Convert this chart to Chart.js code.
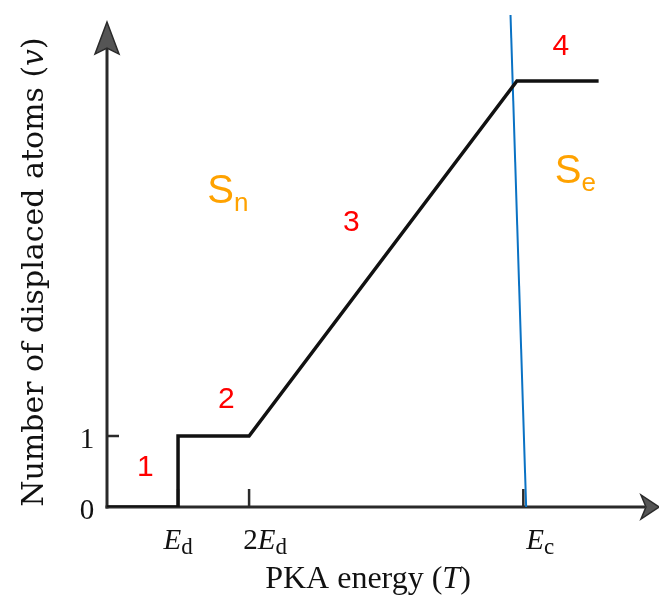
<!DOCTYPE html>
<html>
<head>
<meta charset="utf-8">
<script src="https://cdn.jsdelivr.net/npm/chart.js@4"></script>
<style>
  html, body { margin: 0; padding: 0; background: #fff; }
  #wrap { width: 659px; height: 601px; }
</style>
</head>
<body>
<div id="wrap"><canvas id="chart" width="659" height="601"></canvas></div>
<script>
// Displacement curve (Kinchin-Pease model), x in units of Ed
const curveX = [0, 1, 1, 2, 5.77, 6.92];
const curveY = [0, 0, 1, 1, 6, 6];

// Blue boundary line between Sn and Se regimes
const boundaryX = [5.68, 5.9];
const boundaryY = [6.93, 0];

// Axis ticks
const xTicks = [1, 2, 5.86];
const xTickLabels = [["E", "d"], ["2E", "d"], ["E", "c"]];
const yTicks = [0, 1];
const yTickLabels = ["0", "1"];

// Region numbers and stopping-power labels
const regionLabels = ["1", "2", "3", "4"];
const regionX = [0.54, 1.68, 3.44, 6.39];
const regionY = [0.55, 1.51, 4.01, 6.48];
const stoppingLabels = [["S", "n"], ["S", "e"]];
const stoppingX = [1.66, 6.55];
const stoppingY = [4.44, 4.72];

const toPoints = (xs, ys) => xs.map((x, i) => ({ x: x, y: ys[i] }));

const SERIF = "'Liberation Serif', 'DejaVu Serif', serif";
const WIDE_SERIF = "'DejaVu Serif', 'Liberation Serif', serif";
const SANS = "'Liberation Sans', Arial, sans-serif";

// draws a list of [text, font, dy] pieces left to right
const drawPieces = (ctx, pieces, x, y, align) => {
  let total = 0;
  pieces.forEach((p) => { ctx.font = p[1]; total += ctx.measureText(p[0]).width; });
  let cx = align === "center" ? x - total / 2 : x;
  pieces.forEach((p) => {
    ctx.font = p[1];
    ctx.fillText(p[0], cx, y + (p[2] || 0));
    cx += ctx.measureText(p[0]).width;
  });
};

const axesPlugin = {
  id: "axesPlugin",
  beforeDatasetsDraw(chart) {
    const ctx = chart.ctx;
    const xs = chart.scales.x;
    const ys = chart.scales.y;
    const x0 = xs.getPixelForValue(0);
    const y0 = ys.getPixelForValue(0);
    const yTop = ys.getPixelForValue(6.83);
    const xEnd = xs.getPixelForValue(7.77);

    ctx.save();
    ctx.strokeStyle = "#2a2a2a";
    ctx.lineWidth = 3;
    ctx.lineCap = "butt";
    // y axis
    ctx.beginPath();
    ctx.moveTo(x0, y0 + 1.5);
    ctx.lineTo(x0, yTop + 20);
    ctx.stroke();
    // x axis
    ctx.beginPath();
    ctx.moveTo(x0 - 1.5, y0);
    ctx.lineTo(xEnd - 14, y0);
    ctx.stroke();

    // arrow heads
    ctx.fillStyle = "#555";
    ctx.lineWidth = 1.5;
    ctx.beginPath();
    ctx.moveTo(x0, yTop);
    ctx.lineTo(x0 - 12, yTop + 32);
    ctx.lineTo(x0, yTop + 26);
    ctx.lineTo(x0 + 12, yTop + 32);
    ctx.closePath();
    ctx.fill();
    ctx.stroke();
    ctx.beginPath();
    ctx.moveTo(xEnd, y0);
    ctx.lineTo(xEnd - 18, y0 - 12);
    ctx.lineTo(xEnd - 13, y0);
    ctx.lineTo(xEnd - 18, y0 + 12);
    ctx.closePath();
    ctx.fill();
    ctx.stroke();

    // tick marks
    ctx.strokeStyle = "#2a2a2a";
    ctx.lineWidth = 2.5;
    yTicks.forEach((v) => {
      if (v === 0) return;
      const py = ys.getPixelForValue(v);
      ctx.beginPath();
      ctx.moveTo(x0, py);
      ctx.lineTo(x0 + 12, py);
      ctx.stroke();
    });
    xTicks.forEach((v) => {
      const px = xs.getPixelForValue(v);
      ctx.beginPath();
      ctx.moveTo(px, y0);
      ctx.lineTo(px, y0 - 18);
      ctx.stroke();
    });
    ctx.restore();
  },
  afterDatasetsDraw(chart) {
    const ctx = chart.ctx;
    const xs = chart.scales.x;
    const ys = chart.scales.y;
    const x0 = xs.getPixelForValue(0);
    const y0 = ys.getPixelForValue(0);

    ctx.save();
    ctx.fillStyle = "#111";
    ctx.textBaseline = "middle";

    // y tick labels
    ctx.textAlign = "center";
    ctx.font = "29px " + SERIF;
    yTicks.forEach((v, i) => {
      ctx.fillText(yTickLabels[i], x0 - 20, ys.getPixelForValue(v) + 4);
    });

    // x tick labels (italic E with upright subscript)
    ctx.textAlign = "left";
    const shifts = [0, 16, 17];
    xTicks.forEach((v, i) => {
      const lab = xTickLabels[i];
      const px = xs.getPixelForValue(v) + shifts[i];
      const main = lab[0].startsWith("2")
        ? [["2", "29px " + SERIF, 0], ["E", "italic 29px " + SERIF, 0]]
        : [["E", "italic 29px " + SERIF, 0]];
      drawPieces(ctx, main.concat([[lab[1], "23px " + SERIF, 7]]), px, y0 + 34, "center");
    });

    // axis titles
    drawPieces(ctx, [
      ["PKA energy (", "32px " + SERIF, 0],
      ["T", "italic 32px " + SERIF, 0],
      [")", "32px " + SERIF, 0],
    ], 368, 580, "center");

    ctx.save();
    ctx.translate(35, 272);
    ctx.rotate(-Math.PI / 2);
    drawPieces(ctx, [
      ["Number of displaced atoms (", "30px " + WIDE_SERIF, 0],
      ["v", "italic 30px " + WIDE_SERIF, 0],
      [")", "30px " + WIDE_SERIF, 0],
    ], 0, 0, "center");
    ctx.restore();

    // red region numbers
    ctx.fillStyle = "#ff0000";
    ctx.font = "30px " + SANS;
    ctx.textAlign = "center";
    regionLabels.forEach((t, i) => {
      ctx.fillText(t, xs.getPixelForValue(regionX[i]), ys.getPixelForValue(regionY[i]));
    });

    // orange stopping power labels
    ctx.fillStyle = "#ffa200";
    ctx.textAlign = "left";
    stoppingLabels.forEach((lab, i) => {
      drawPieces(ctx, [
        [lab[0], "40px " + SANS, 0],
        [lab[1], "26px " + SANS, 12],
      ], xs.getPixelForValue(stoppingX[i]) + 3, ys.getPixelForValue(stoppingY[i]), "center");
    });
    ctx.restore();
  },
};

new Chart(document.getElementById("chart"), {
  type: "line",
  data: {
    datasets: [
      {
        data: toPoints(curveX, curveY),
        borderColor: "#111111",
        borderWidth: 3.5,
        pointRadius: 0,
        tension: 0,
        borderJoinStyle: "miter",
      },
      {
        data: toPoints(boundaryX, boundaryY),
        borderColor: "#0a72c4",
        borderWidth: 2,
        pointRadius: 0,
        tension: 0,
      },
    ],
  },
  plugins: [axesPlugin],
  options: {
    responsive: false,
    animation: false,
    layout: { padding: { left: 107, right: 0, top: 10, bottom: 94 } },
    plugins: { legend: { display: false }, tooltip: { enabled: false } },
    scales: {
      x: { type: "linear", min: 0, max: 7.77, display: false },
      y: { type: "linear", min: 0, max: 7.0, display: false },
    },
  },
});
</script>
</body>
</html>
